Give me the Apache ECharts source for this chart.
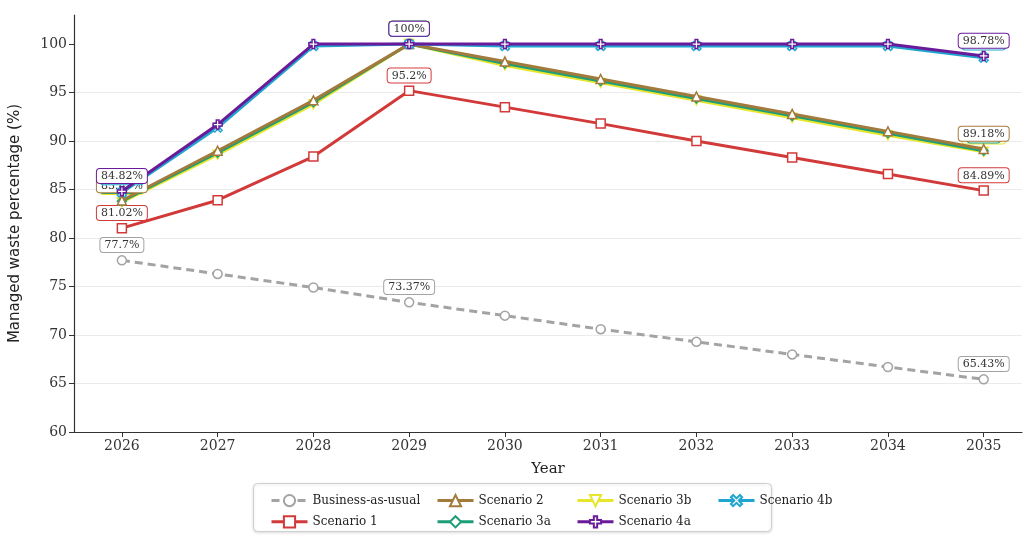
<!DOCTYPE html>
<html>
<head>
<meta charset="utf-8">
<script src="https://cdn.jsdelivr.net/npm/echarts@6/dist/echarts.min.js"></script>
<style>
  html, body { margin: 0; padding: 0; background: #fff; }
  #chart { width: 1024px; height: 538px; }
</style>
</head>
<body>
<div id="chart"></div>
<script>
// Years on the x axis and y-axis ticks
const years = [2026, 2027, 2028, 2029, 2030, 2031, 2032, 2033, 2034, 2035];
const yTicks = [60, 65, 70, 75, 80, 85, 90, 95, 100];

// Managed waste percentage by scenario
const businessAsUsual = [77.7, 76.3, 74.9, 73.37, 72.0, 70.6, 69.3, 68.0, 66.7, 65.43];
const scenario1 = [81.02, 83.9, 88.4, 95.2, 93.5, 91.8, 90.0, 88.3, 86.6, 84.89];
const scenario2 = [83.87, 89.0, 94.2, 100, 98.2, 96.4, 94.6, 92.8, 91.0, 89.18];
const scenario3a = [83.8, 88.8, 94.0, 100, 98.0, 96.2, 94.4, 92.6, 90.8, 89.0];
const scenario3b = [83.7, 88.6, 93.8, 100, 97.8, 96.0, 94.2, 92.4, 90.6, 88.9];
const scenario4a = [84.82, 91.7, 100, 100, 100, 100, 100, 100, 100, 98.78];
const scenario4b = [84.7, 91.4, 99.8, 100, 99.8, 99.8, 99.8, 99.8, 99.8, 98.6];

// Points that carry a value label
const labelledIdx = [0, 3, 9];

const SERIF = "'DejaVu Serif', serif";
const SANS = "'DejaVu Sans', sans-serif";

const symDown = 'path://M0,0 L10,0 L5,10 Z';
const symPlus = 'path://M3.5,0 H6.5 V3.5 H10 V6.5 H6.5 V10 H3.5 V6.5 H0 V3.5 H3.5 Z';
const symX = 'path://M2,0 L5,3 L8,0 L10,2 L7,5 L10,8 L8,10 L5,7 L2,10 L0,8 L3,5 L0,2 Z';

function makeSeries(name, values, color, symbol, z, dashed) {
  return {
    name: name,
    type: 'line',
    z: z,
    data: values.map((v, i) => {
      const item = { value: [years[i], v] };
      if (labelledIdx.includes(i)) {
        item.label = {
          show: true,
          position: 'top',
          distance: 3,
          formatter: v + '%',
          fontFamily: SERIF,
          fontSize: 11,
          color: '#333',
          backgroundColor: '#fff',
          borderColor: color,
          borderWidth: 1,
          borderRadius: 3,
          padding: [2, 4, 1, 4]
        };
      }
      return item;
    }),
    symbol: symbol,
    symbolSize: 9,
    showAllSymbol: true,
    lineStyle: { color: color, width: 3, type: dashed ? [8, 5] : 'solid' },
    itemStyle: { color: '#fff', borderColor: color, borderWidth: 1.5 },
    emphasis: { disabled: true },
    animation: false
  };
}

const series = [
  makeSeries('Business-as-usual', businessAsUsual, '#a3a3a3', 'circle', 2, true),
  makeSeries('Scenario 1', scenario1, '#d23a3a', 'rect', 3, false),
  makeSeries('Scenario 2', scenario2, '#a27a3c', 'triangle', 6, false),
  makeSeries('Scenario 3a', scenario3a, '#1d9e78', 'diamond', 5, false),
  makeSeries('Scenario 3b', scenario3b, '#e8e62a', symDown, 4, false),
  makeSeries('Scenario 4a', scenario4a, '#6a1b9a', symPlus, 8, false),
  makeSeries('Scenario 4b', scenario4b, '#1fa5d0', symX, 7, false)
];

function legendColumn(left, names) {
  return {
    orient: 'vertical',
    left: left,
    top: 489,
    itemGap: 8,
    itemWidth: 36,
    itemHeight: 14,
    data: names,
    lineStyle: { width: 3 },
    textStyle: { fontFamily: SERIF, fontSize: 12, color: '#222' },
    selectedMode: false
  };
}

const chart = echarts.init(document.getElementById('chart'), null, { renderer: 'canvas' });
chart.setOption({
  backgroundColor: '#fff',
  animation: false,
  grid: { left: 73, right: 2, top: 15, bottom: 106, containLabel: false },
  xAxis: {
    type: 'value',
    min: 2025.5,
    max: 2035.4,
    name: 'Year',
    nameLocation: 'middle',
    nameGap: 30,
    nameTextStyle: { fontFamily: SERIF, fontSize: 15, color: '#222' },
    axisLine: { show: true, lineStyle: { color: '#333', width: 1.2 } },
    axisTick: { show: true, length: 5, lineStyle: { color: '#333' }, customValues: years },
    axisLabel: {
      customValues: years,
      fontFamily: SERIF, fontSize: 14, color: '#333', margin: 7,
      formatter: v => String(v)
    },
    splitLine: { show: false }
  },
  yAxis: {
    type: 'value',
    min: 60,
    max: 103,
    interval: 5,
    name: 'Managed waste percentage (%)',
    nameLocation: 'middle',
    nameGap: 51,
    nameTextStyle: { fontFamily: SANS, fontSize: 15, color: '#222' },
    axisLine: { show: true, lineStyle: { color: '#333', width: 1.2 } },
    axisTick: { show: true, length: 5, lineStyle: { color: '#333' }, customValues: yTicks },
    axisLabel: {
      customValues: yTicks,
      fontFamily: SERIF, fontSize: 14, color: '#333', margin: 7
    },
    splitLine: { show: true, showMinLine: false, showMaxLine: false, lineStyle: { color: '#ebebeb', width: 1 } }
  },
  legend: [
    legendColumn(265, ['Business-as-usual', 'Scenario 1']),
    legendColumn(431, ['Scenario 2', 'Scenario 3a']),
    legendColumn(571, ['Scenario 3b', 'Scenario 4a']),
    legendColumn(712, ['Scenario 4b'])
  ],
  graphic: [{
    type: 'rect',
    left: 253,
    top: 483,
    z: -1,
    shape: { width: 518, height: 48, r: 4 },
    style: { fill: '#fff', stroke: '#cfcfcf', lineWidth: 1, shadowBlur: 3, shadowColor: 'rgba(0,0,0,0.12)', shadowOffsetY: 1 }
  }],
  series: series
});
</script>
</body>
</html>
